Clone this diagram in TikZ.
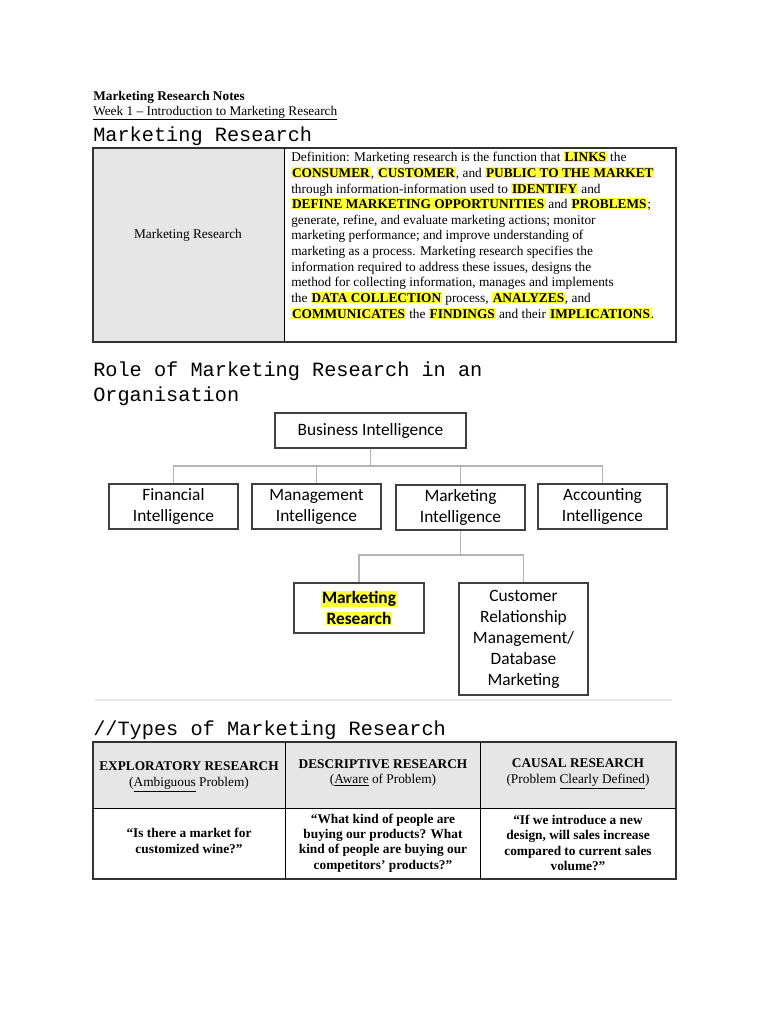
\documentclass[tikz,border=0pt]{standalone}
\usepackage{fontspec}
\setmainfont{Liberation Serif}
\newfontfamily\monof{Liberation Mono}
\newfontfamily\orgf{Carlito}
\usepackage{xcolor}
\definecolor{hly}{HTML}{FFFF33}
\definecolor{cellgray}{HTML}{E6E6E6}
\definecolor{linegray}{HTML}{B4B4B4}
\newcommand{\hlt}[1]{{\setlength\fboxsep{0.6pt}\colorbox{hly}{\textbf{#1}}}}
\begin{document}
\begin{tikzpicture}[x=0.75pt,y=-0.75pt,
  body/.style={font=\fontsize{10}{11.5}\selectfont,inner sep=0pt},
  dl/.style={body,anchor=base west},
  heading/.style={font=\monof\fontsize{15.2}{18.5}\selectfont,anchor=base west,inner sep=0pt},
  orgbox/.style={draw=black!75,line width=1.1pt,fill=white,align=center,font=\orgf\fontsize{13}{15.8}\selectfont,inner sep=0pt},
  conn/.style={draw=linegray,line width=0.8pt},
  cell/.style={body,align=center}]
\useasboundingbox (0,0) rectangle (768,1024);
\fill[white] (0,0) rectangle (768,1024);
% titles
\node[dl,font=\bfseries\fontsize{10}{11}\selectfont] (t1) at (93,100) {Marketing Research Notes};
\node[dl,font=\fontsize{10}{11}\selectfont] (t2) at (93,115) {\underline{Week 1 -- Introduction to Marketing Research}};
\node[heading] (h1) at (93,142) {Marketing Research};
% top table
\fill[cellgray] (94,149) rectangle (284,341);
\draw[line width=1.2pt,black!80] (93,148) rectangle (676,342);
\draw[line width=0.6pt] (284,148) -- (284,342);
\node[body] (mr) at (188,235) {Marketing Research};
\node[dl] (d1) at (291,161) {Definition: Marketing research is the function that \hlt{LINKS} the};
\node[dl] (d2) at (291,177) {\hlt{CONSUMER}, \hlt{CUSTOMER}, and \hlt{PUBLIC TO THE MARKET}};
\node[dl] (d3) at (291,193) {through information-information used to \hlt{IDENTIFY} and};
\node[dl] (d4) at (291,208) {\hlt{DEFINE MARKETING OPPORTUNITIES} and \hlt{PROBLEMS};};
\node[dl] (d5) at (291,224) {generate, refine, and evaluate marketing actions; monitor};
\node[dl] (d6) at (291,239) {marketing performance; and improve understanding of};
\node[dl] (d7) at (291,255) {marketing as a process. Marketing research specifies the};
\node[dl] (d8) at (291,271) {information required to address these issues, designs the};
\node[dl] (d9) at (291,286) {method for collecting information, manages and implements};
\node[dl] (d10) at (291,302) {the \hlt{DATA COLLECTION} process, \hlt{ANALYZES}, and};
\node[dl] (d11) at (291,318) {\hlt{COMMUNICATES} the \hlt{FINDINGS} and their \hlt{IMPLICATIONS}.};
% heading 2
\node[heading] (h2) at (93,376) {Role of Marketing Research in an};
\node[heading] (h2b) at (93,401) {Organisation};
% org chart
\node[orgbox,minimum width=143.25pt,minimum height=26.25pt] (bi) at (370.5,430.5) {Business Intelligence};
\coordinate (j1) at (370.5,466);
\node[orgbox,minimum width=96.75pt,minimum height=33.75pt] (fi) at (173.5,506.5) {Financial\\Intelligence};
\node[orgbox,minimum width=96.75pt,minimum height=33.75pt] (mgi) at (316.5,506.5) {Management\\Intelligence};
\node[orgbox,minimum width=96.75pt,minimum height=33.75pt] (mki) at (460.5,507.5) {Marketing\\Intelligence};
\node[orgbox,minimum width=96.75pt,minimum height=33.75pt] (ai) at (602.5,506.5) {Accounting\\Intelligence};
\node[orgbox,line width=1.6pt,minimum width=97.5pt,minimum height=37.5pt,font=\orgf\bfseries\fontsize{13}{15.5}\selectfont] (mrb) at (359,608) {\setlength\fboxsep{0.5pt}\colorbox{hly}{Marketing}\\\setlength\fboxsep{0.5pt}\colorbox{hly}{Research}};
\node[orgbox,minimum width=96.75pt,minimum height=84pt] (crm) at (523.5,639) {Customer\\Relationship\\Management/\\Database\\Marketing};
\coordinate (j2) at (460.5,555);
\draw[conn] (bi.south) -- (j1);
\draw[conn] (fi.north) |- (j1) -| (ai.north);
\draw[conn] (mgi.north) -- (mgi.north |- j1);
\draw[conn] (mki.north) -- (mki.north |- j1);
\draw[conn] (mki.south) -- (j2);
\draw[conn] (mrb.north) |- (j2) -| (crm.north);
\draw[black!10,line width=1pt] (95,700) -- (672,700);
% heading 3
\node[heading] (h3) at (93,735) {//Types of Marketing Research};
% bottom table
\fill[cellgray] (94,743) rectangle (675,808);
\draw[line width=1.2pt,black!80] (93,742) rectangle (676,879);
\draw[line width=0.6pt] (93,808) -- (676,808);
\draw[line width=0.6pt] (285,742) -- (285,879);
\draw[line width=0.6pt] (480,742) -- (480,879);
\node[cell] (c1) at (189,777) {\textbf{EXPLORATORY RESEARCH}\\(\underline{Ambiguous} Problem)};
\node[cell] (c2) at (383,773) {\textbf{DESCRIPTIVE RESEARCH}\\(\underline{Aware} of Problem)};
\node[cell] (c3) at (578,774) {\textbf{CAUSAL RESEARCH}\\(Problem \underline{Clearly Defined})};
\node[cell] (e1) at (189,841) {\textbf{“Is there a market for}\\\textbf{customized wine?”}};
\node[cell] (e2) at (383,843) {\textbf{“What kind of people are}\\\textbf{buying our products? What}\\\textbf{kind of people are buying our}\\\textbf{competitors’ products?”}};
\node[cell] (e3) at (578,843) {\textbf{“If we introduce a new}\\\textbf{design, will sales increase}\\\textbf{compared to current sales}\\\textbf{volume?”}};
\end{tikzpicture}
\end{document}
